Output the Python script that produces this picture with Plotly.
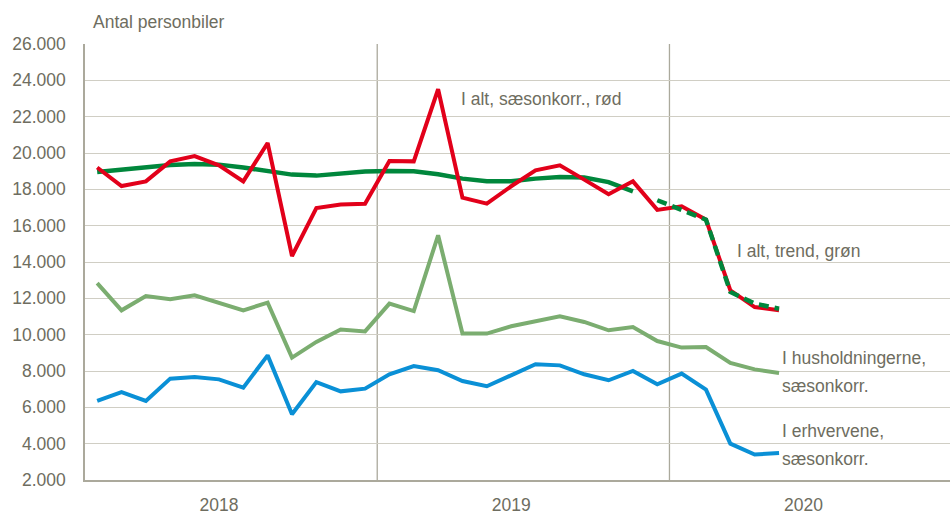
import plotly.graph_objects as go

# ---- data -------------------------------------------------------------
months = [f"{y}-{m:02d}" for y in (2018, 2019, 2020) for m in range(1, 13)][:29]
years = ["2018", "2019", "2020"]

total_sa = [19200, 18180, 18440, 19540, 19830, 19320, 18440, 20550, 14330, 16970,
            17160, 17210, 19560, 19540, 23510, 17540, 17210, 18170, 19050, 19320,
            18535, 17730, 18440, 16870, 17070, 16330, 12440, 11520, 11340]
trend = [18950, 19090, 19230, 19340, 19390, 19360, 19200, 18980, 18810, 18755,
         18865, 18980, 19010, 19000, 18830, 18590, 18440, 18440, 18590, 18680,
         18650, 18400, 17890, 17400, 16850, 16330, 12350, 11710, 11430]
households = [12840, 11340, 12130, 11950, 12170, 11740, 11340, 11760, 8740, 9600,
              10280, 10180, 11710, 11300, 15470, 10060, 10060, 10460, 10750, 11010,
              10700, 10240, 10420, 9650, 9290, 9320, 8440, 8090, 7890]
business = [6350, 6840, 6350, 7580, 7670, 7540, 7085, 8860, 5615, 7390,
            6880, 7030, 7820, 8270, 8040, 7450, 7160, 7760, 8370, 8310,
            7820, 7490, 8000, 7270, 7855, 6975, 4000, 3400, 3485]

n_solid_trend = 23  # trend drawn solid through Nov 2019, dashed afterwards

# ---- styling ----------------------------------------------------------
RED = "#e2001a"
DGREEN = "#00873c"
LGREEN = "#7bad70"
BLUE = "#0a90d6"
TXT = "#6e6d60"
GRID = "#d0cec4"
AXIS = "#aba99c"
FONT = "Liberation Sans, Arial, sans-serif"

x = list(range(len(months)))

fig = go.Figure()
fig.add_trace(go.Scatter(x=x, y=households, mode="lines", line=dict(color=LGREEN, width=4),
                         customdata=months, hovertemplate="%{customdata}: %{y}<extra></extra>"))
fig.add_trace(go.Scatter(x=x, y=business, mode="lines", line=dict(color=BLUE, width=4),
                         customdata=months, hovertemplate="%{customdata}: %{y}<extra></extra>"))
fig.add_trace(go.Scatter(x=x[:n_solid_trend], y=trend[:n_solid_trend], mode="lines",
                         line=dict(color=DGREEN, width=4.5),
                         customdata=months, hovertemplate="%{customdata}: %{y}<extra></extra>"))
fig.add_trace(go.Scatter(x=x, y=total_sa, mode="lines", line=dict(color=RED, width=4),
                         customdata=months, hovertemplate="%{customdata}: %{y}<extra></extra>"))
fig.add_trace(go.Scatter(x=x[n_solid_trend:], y=trend[n_solid_trend:], mode="lines",
                         line=dict(color=DGREEN, width=4.5, dash="10px,6px"),
                         customdata=months[n_solid_trend:],
                         hovertemplate="%{customdata}: %{y}<extra></extra>"))

# year separators
for xv in (11.5, 23.5):
    fig.add_shape(type="line", xref="x", yref="paper", x0=xv, x1=xv, y0=0, y1=1,
                  line=dict(color=AXIS, width=1.3), layer="below")

ann_font = dict(family=FONT, size=17.5, color=TXT)
annotations = [
    dict(text="Antal personbiler", xref="paper", yref="paper", x=0, y=1,
         xanchor="left", yanchor="middle", xshift=6, yshift=22, showarrow=False, font=ann_font),
    dict(text="I alt, sæsonkorr., rød", xref="x", yref="y", x=14.85, y=23000,
         xanchor="left", yanchor="middle", showarrow=False, font=ann_font),
    dict(text="I alt, trend, grøn", xref="x", yref="y", x=26.2, y=14600,
         xanchor="left", yanchor="middle", showarrow=False, font=ann_font),
    dict(text="I husholdningerne,", xref="x", yref="y", x=28.05, y=8700,
         xanchor="left", yanchor="middle", showarrow=False, font=ann_font),
    dict(text="sæsonkorr.", xref="x", yref="y", x=28.05, y=7200,
         xanchor="left", yanchor="middle", showarrow=False, font=ann_font),
    dict(text="I erhvervene,", xref="x", yref="y", x=28.05, y=4680,
         xanchor="left", yanchor="middle", showarrow=False, font=ann_font),
    dict(text="sæsonkorr.", xref="x", yref="y", x=28.05, y=3160,
         xanchor="left", yanchor="middle", showarrow=False, font=ann_font),
]

fig.update_layout(
    width=950, height=514,
    margin=dict(l=85, r=0, t=44, b=34),
    paper_bgcolor="white", plot_bgcolor="white",
    showlegend=False,
    separators=",.",
    font=dict(family=FONT, size=17, color=TXT),
    annotations=annotations,
    xaxis=dict(range=[-0.5, 35.02], tickmode="array", tickvals=[5, 17, 29], ticktext=years,
               showgrid=False, zeroline=False, showline=True, linecolor=AXIS, linewidth=1.5,
               automargin=False,
               ticks="", ticklabelstandoff=8, tickfont=dict(family=FONT, size=17.5, color=TXT)),
    yaxis=dict(range=[2000, 26000], tick0=2000, dtick=2000, tickformat=",d",
               showgrid=True, gridcolor=GRID, gridwidth=1.3, zeroline=False,
               showline=True, linecolor=AXIS, linewidth=1.5, automargin=False,
               ticks="", ticklabelstandoff=14, tickfont=dict(family=FONT, size=17.5, color=TXT)),
)

fig.write_html(
    "out.html",
    config={"displayModeBar": False},
    post_script="document.body.style.margin='0';document.body.style.overflow='hidden';",
)
